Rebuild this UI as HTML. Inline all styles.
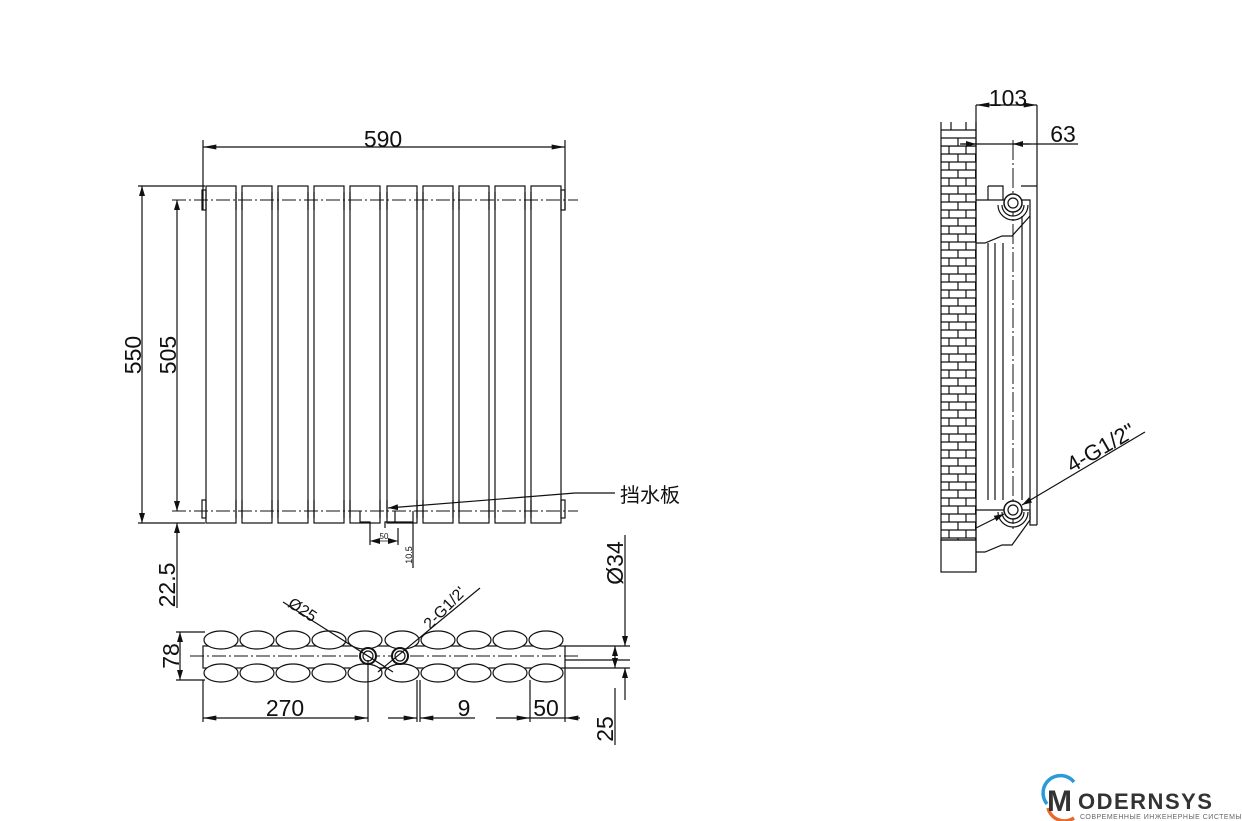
<!DOCTYPE html><html><head><meta charset="utf-8"><style>
html,body{margin:0;padding:0;background:#fff;width:1242px;height:821px;overflow:hidden}
text{font-family:"Liberation Sans","Noto Sans CJK SC",sans-serif;fill:#111}
</style></head><body>
<svg width="1242" height="821" viewBox="0 0 1242 821" xmlns="http://www.w3.org/2000/svg">
<defs>
<marker id="a" viewBox="0 0 10 6" refX="10" refY="3" markerWidth="10" markerHeight="6" orient="auto-start-reverse" markerUnits="userSpaceOnUse"><path d="M0,0L10,3L0,6z" fill="#111"/></marker>
<marker id="b" viewBox="0 0 16 6" refX="16" refY="3" markerWidth="16" markerHeight="5" orient="auto-start-reverse" markerUnits="userSpaceOnUse"><path d="M0,0L16,3L0,6z" fill="#111"/></marker>
<pattern id="brick" x="941" y="146" width="34" height="16" patternUnits="userSpaceOnUse">
<rect width="34" height="16" fill="#fff"/>
<path d="M0,0H34M0,8H34M0,16H34M8,0V8M25,0V8M0,8V16M17,8V16" stroke="#111" stroke-width="1.2" fill="none"/>
</pattern>
</defs>
<g stroke="#111" stroke-width="1.2" fill="none">
<g>
<rect x="206" y="186" width="30" height="337" fill="#fff"/>
<rect x="242" y="186" width="30" height="337" fill="#fff"/>
<rect x="278" y="186" width="30" height="337" fill="#fff"/>
<rect x="314" y="186" width="30" height="337" fill="#fff"/>
<rect x="350" y="186" width="30" height="337" fill="#fff"/>
<rect x="387" y="186" width="30" height="337" fill="#fff"/>
<rect x="423" y="186" width="30" height="337" fill="#fff"/>
<rect x="459" y="186" width="30" height="337" fill="#fff"/>
<rect x="495" y="186" width="30" height="337" fill="#fff"/>
<rect x="531" y="186" width="30" height="337" fill="#fff"/>
</g>
<path d="M236,192V210M242,192V210M272,192V210M278,192V210M308,192V210M314,192V210M344,192V210M350,192V210M380,192V210M387,192V210M417,192V210M423,192V210M453,192V210M459,192V210M489,192V210M495,192V210M525,192V210M531,192V210"/>
<path d="M236,500V518M242,500V518M272,500V518M278,500V518M308,500V518M314,500V518M344,500V518M350,500V518M380,500V518M387,500V518M417,500V518M423,500V518M453,500V518M459,500V518M489,500V518M495,500V518M525,500V518M531,500V518"/>
<rect x="202" y="190" width="4" height="20"/><rect x="561" y="190" width="4" height="20"/>
<rect x="202" y="500" width="4" height="18"/><rect x="561" y="500" width="4" height="18"/>
<path d="M172,200H578M172,511H578" stroke-dasharray="14,3,2,3" stroke-width="1"/>
<path d="M360,511V522H370V528M395,511V522H385V528M395,522H413V518M413,511V528"/>
<path d="M203,140V210M565,140V210"/>
<line x1="203" y1="147" x2="565" y2="147" marker-start="url(#b)" marker-end="url(#b)"/>
<path d="M138,186H205M138,523H205"/>
<line x1="142" y1="186" x2="142" y2="523" marker-start="url(#a)" marker-end="url(#a)"/>
<line x1="177" y1="200" x2="177" y2="511" marker-start="url(#a)" marker-end="url(#a)"/>
<line x1="177" y1="608" x2="177" y2="523" marker-end="url(#a)"/>
<path d="M370,528V545M398,528V545M413,528V568"/>
<line x1="370" y1="541" x2="398" y2="541" stroke-width="0.8" marker-start="url(#a)" marker-end="url(#a)"/>
<path d="M575,493H615"/><line x1="575" y1="493" x2="388" y2="508" marker-end="url(#a)"/>
<rect x="203" y="646" width="362" height="22" fill="#fff"/>
<g fill="#fff">
<ellipse cx="221" cy="640" rx="17" ry="9"/><ellipse cx="257" cy="640" rx="17" ry="9"/><ellipse cx="293" cy="640" rx="17" ry="9"/><ellipse cx="329" cy="640" rx="17" ry="9"/><ellipse cx="365" cy="640" rx="17" ry="9"/><ellipse cx="402" cy="640" rx="17" ry="9"/><ellipse cx="438" cy="640" rx="17" ry="9"/><ellipse cx="474" cy="640" rx="17" ry="9"/><ellipse cx="510" cy="640" rx="17" ry="9"/><ellipse cx="546" cy="640" rx="17" ry="9"/>
<ellipse cx="221" cy="673" rx="17" ry="9"/><ellipse cx="257" cy="673" rx="17" ry="9"/><ellipse cx="293" cy="673" rx="17" ry="9"/><ellipse cx="329" cy="673" rx="17" ry="9"/><ellipse cx="365" cy="673" rx="17" ry="9"/><ellipse cx="402" cy="673" rx="17" ry="9"/><ellipse cx="438" cy="673" rx="17" ry="9"/><ellipse cx="474" cy="673" rx="17" ry="9"/><ellipse cx="510" cy="673" rx="17" ry="9"/><ellipse cx="546" cy="673" rx="17" ry="9"/>
</g>
<path d="M190,656H578" stroke-dasharray="14,3,2,3" stroke-width="1"/>
<circle cx="368" cy="656" r="8" stroke-width="2" fill="#fff"/><circle cx="368" cy="656" r="5"/>
<circle cx="400" cy="656" r="8" stroke-width="2" fill="#fff"/><circle cx="400" cy="656" r="5"/>
<path d="M283,602L393,672M480,588L378,672"/>
<path d="M176,632H205M176,680H205"/>
<line x1="180" y1="632" x2="180" y2="680" marker-start="url(#a)" marker-end="url(#a)"/>
<path d="M203,680V722M368,660V722M417,680V722M420,680V722M530,680V722M565,668V722"/>
<line x1="203" y1="718" x2="368" y2="718" marker-start="url(#b)" marker-end="url(#b)"/>
<line x1="388" y1="718" x2="417" y2="718" marker-end="url(#b)"/>
<line x1="475" y1="718" x2="420" y2="718" marker-end="url(#b)"/>
<line x1="496" y1="718" x2="530" y2="718" marker-end="url(#b)"/>
<line x1="530" y1="718" x2="565" y2="718"/>
<line x1="580" y1="718" x2="565" y2="718" marker-end="url(#b)"/>
<path d="M565,646H630M565,660H630M565,668H630"/>
<line x1="625" y1="535" x2="625" y2="646" marker-end="url(#a)"/>
<line x1="615" y1="646" x2="615" y2="668" marker-start="url(#a)" marker-end="url(#a)"/>
<line x1="625" y1="700" x2="625" y2="668" marker-end="url(#a)"/>
<line x1="615" y1="745" x2="615" y2="688"/>

<rect x="941" y="146" width="35" height="394" fill="url(#brick)"/>
<path d="M941,122V146M951,122V130M966,122V130M976,122V146M941,130H976M941,138H976M958,138V146"/>
<rect x="941" y="540" width="35" height="32"/>
<path d="M976,105V572"/>
<path d="M1037,105V525"/>
<line x1="976" y1="105" x2="1037" y2="105" marker-start="url(#b)" marker-end="url(#b)"/>
<path d="M960,144H1078"/>
<line x1="962" y1="144" x2="976" y2="144" marker-end="url(#a)"/>
<line x1="1030" y1="144" x2="1013" y2="144" marker-end="url(#a)"/>
<path d="M1013,140V530" stroke-dasharray="20,3,2,3" stroke-width="1"/>
<path d="M976,200H1030V216L1012,236H1002L985,243H976"/>
<path d="M988,186V200M988,186H1003V200M1021,186H1037"/>
<path d="M988,243V500M995,243V500M1003,243V500M1022,216V500M1030,216V500"/>
<circle cx="1013" cy="203" r="9" fill="#fff" stroke-width="1.5"/><circle cx="1013" cy="203" r="5"/>
<path d="M998,205A15,15 0 0 0 1028,205M1002,205A11,11 0 0 0 1024,205"/>
<path d="M976,510H1030V520L1012,545H1002L985,552H976"/>
<path d="M1030,500V525H1037"/>
<circle cx="1013" cy="510" r="9" fill="#fff" stroke-width="1.5"/><circle cx="1013" cy="510" r="5"/>
<path d="M998,512A15,15 0 0 0 1028,512M1002,512A11,11 0 0 0 1024,512"/>
<line x1="1145" y1="432" x2="1022" y2="505" marker-end="url(#a)"/>
<line x1="976" y1="528" x2="1004" y2="514" marker-end="url(#a)"/>
</g>
<text x="383" y="147" font-size="23" text-anchor="middle">590</text>
<text x="1008" y="106" font-size="23" text-anchor="middle">103</text>
<text x="1063" y="142" font-size="23" text-anchor="middle">63</text>
<text transform="translate(141,355) rotate(-90)" font-size="23" text-anchor="middle">550</text>
<text transform="translate(176,355) rotate(-90)" font-size="23" text-anchor="middle">505</text>
<text transform="translate(175,585) rotate(-90)" font-size="23" text-anchor="middle">22.5</text>
<text transform="translate(179,656) rotate(-90)" font-size="23" text-anchor="middle">78</text>
<text transform="translate(623,563) rotate(-90)" font-size="23" text-anchor="middle">Ø34</text>
<text transform="translate(613,729) rotate(-90)" font-size="23" text-anchor="middle">25</text>
<text transform="translate(412,555) rotate(-90)" font-size="9" text-anchor="middle">10.5</text>
<text x="384" y="539" font-size="8" text-anchor="middle">50</text>
<text x="285" y="716" font-size="23" text-anchor="middle">270</text>
<text x="464" y="716" font-size="23" text-anchor="middle">9</text>
<text x="546" y="716" font-size="23" text-anchor="middle">50</text>
<text transform="translate(287,606) rotate(33)" font-size="16">Ø25</text>
<text transform="translate(430,630) rotate(-45)" font-size="16">2-G1/2'</text>
<text transform="translate(1072,473) rotate(-30)" font-size="22">4-G1/2"</text>
<text x="620" y="502" font-size="20">挡水板</text>
<path d="M1047,804A17,17 0 0 1 1074,782" stroke="#2a9ad8" stroke-width="3.5" fill="none"/>
<path d="M1048,808A17,17 0 0 0 1074,818" stroke="#e86a2a" stroke-width="3.5" fill="none"/>
<text x="1047" y="811" font-size="30" font-weight="bold" style="fill:#333">M</text>
<text x="1078" y="809" font-size="22" font-weight="bold" style="fill:#333" letter-spacing="1.5">ODERNSYS</text>
<text x="1080" y="819" font-size="7" style="fill:#666" letter-spacing="0.5">СОВРЕМЕННЫЕ ИНЖЕНЕРНЫЕ СИСТЕМЫ</text>
</svg>
</body></html>
